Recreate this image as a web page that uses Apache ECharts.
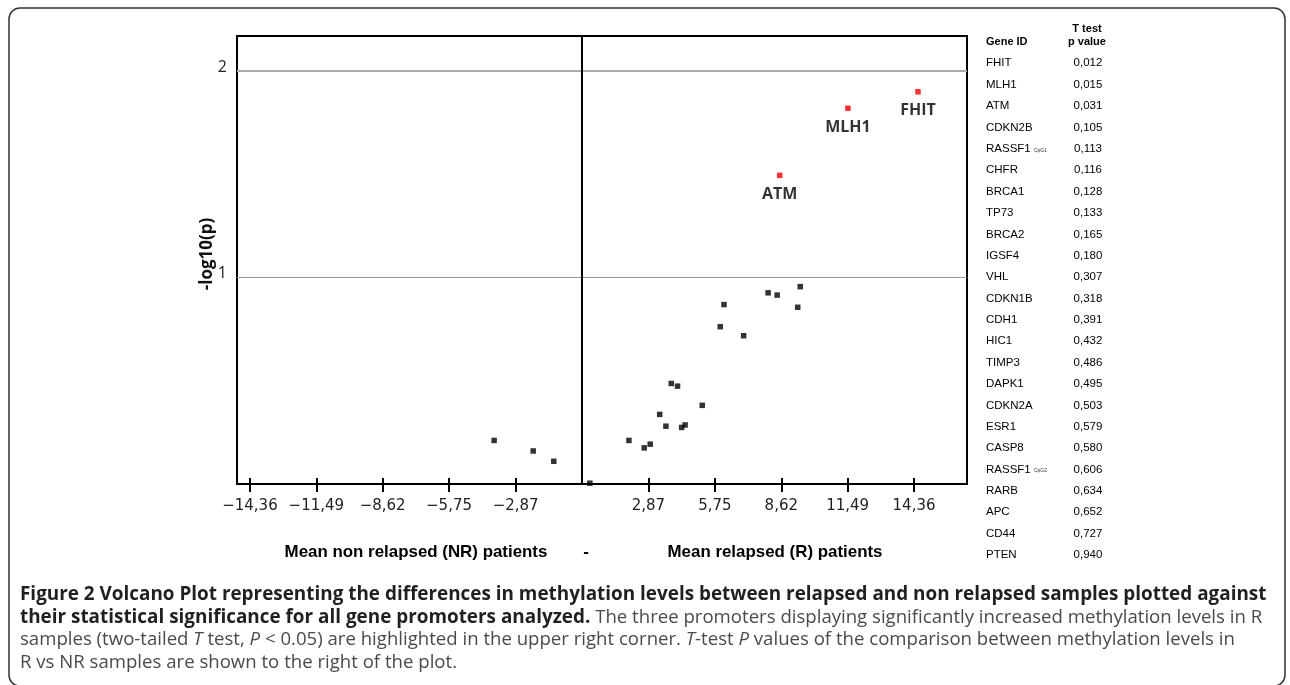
<!DOCTYPE html>
<html><head><meta charset="utf-8">
<script src="https://cdn.jsdelivr.net/npm/echarts@6/dist/echarts.min.js"></script>
<style>html,body{margin:0;padding:0;background:#fff}#c{width:1290px;height:685px}</style>
</head><body><div id="c"></div>
<script>
// ---- data ----
const xTickValues = [-14.36, -11.49, -8.62, -5.75, -2.87, 2.87, 5.75, 8.62, 11.49, 14.36];
const yTickValues = [1, 2];
const refLinesY = [1, 2];
const sigNames = ['FHIT', 'MLH1', 'ATM'];
const sigX = [14.53, 11.50, 8.55];
const sigY = [1.90, 1.82, 1.495];
const otherX = [-3.80, -2.11, -1.22, 0.34, 9.44, 8.05, 8.44, 9.33, 6.14, 5.98, 6.99, 3.86, 4.13, 5.20, 3.36, 3.63, 4.31, 4.46, 2.03, 2.69, 2.95];
const otherY = [0.211, 0.160, 0.110, 0.004, 0.956, 0.926, 0.915, 0.856, 0.869, 0.762, 0.718, 0.487, 0.474, 0.381, 0.337, 0.280, 0.274, 0.286, 0.211, 0.175, 0.193];
const tableGenes = ['FHIT','MLH1','ATM','CDKN2B','RASSF1','CHFR','BRCA1','TP73','BRCA2','IGSF4','VHL','CDKN1B','CDH1','HIC1','TIMP3','DAPK1','CDKN2A','ESR1','CASP8','RASSF1','RARB','APC','CD44','PTEN'];
const tableGeneSub = ['','','','','CpG1','','','','','','','','','','','','','','','CpG2','','','',''];
const tablePValues = ['0,012','0,015','0,031','0,105','0,113','0,116','0,128','0,133','0,165','0,180','0,307','0,318','0,391','0,432','0,486','0,495','0,503','0,579','0,580','0,606','0,634','0,652','0,727','0,940'];
const yAxisName = '-log10(p)';
const xTitleLeft = 'Mean non relapsed (NR) patients';
const xTitleMid = '-';
const xTitleRight = 'Mean relapsed (R) patients';
const captionLines = [
  [['b','Figure 2 Volcano Plot representing the differences in methylation levels between relapsed and non relapsed samples plotted against']],
  [['b','their statistical significance for all gene promoters analyzed.'],['r',' The three promoters displaying significantly increased methylation levels in R']],
  [['r','samples (two-tailed '],['i','T'],['r',' test, '],['i','P'],['r',' < 0.05) are highlighted in the upper right corner. '],['i','T'],['r','-test '],['i','P'],['r',' values of the comparison between methylation levels in']],
  [['r','R vs NR samples are shown to the right of the plot.']]
];

// ---- helpers ----
function fmtTick(v) { return (v < 0 ? '\u2212' : '') + Math.abs(v).toFixed(2).replace('.', ','); }
const X_MIN = -14.92, X_MAX = 16.65, Y_MIN = 0, Y_MAX = 2.17;

const chart = echarts.init(document.getElementById('c'), null, {renderer: 'canvas'});

const graphics = [];
graphics.push({type: 'rect', shape: {x: 9, y: 8, width: 1276, height: 678, r: 11},
  style: {fill: 'none', stroke: '#333', lineWidth: 1.5}, silent: true, z: 0});
const axisTitleFont = {fontFamily: 'Liberation Sans, Arial, sans-serif', fontWeight: 'bold', fontSize: 16.9, fill: '#000'};
graphics.push({type: 'text', x: 416, y: 552, style: Object.assign({text: xTitleLeft, textAlign: 'center', textVerticalAlign: 'middle'}, axisTitleFont)});
graphics.push({type: 'text', x: 586, y: 552, style: Object.assign({text: xTitleMid, textAlign: 'center', textVerticalAlign: 'middle'}, axisTitleFont)});
graphics.push({type: 'text', x: 775, y: 552, style: Object.assign({text: xTitleRight, textAlign: 'center', textVerticalAlign: 'middle'}, axisTitleFont)});

// table
const tFont = 'Liberation Sans, Arial, sans-serif';
graphics.push({type: 'text', x: 986, y: 42, style: {text: 'Gene ID', fontFamily: tFont, fontWeight: 'bold', fontSize: 11, fill: '#000', textVerticalAlign: 'middle'}});
graphics.push({type: 'text', x: 1087, y: 29, style: {text: 'T test', fontFamily: tFont, fontWeight: 'bold', fontSize: 11, fill: '#000', textAlign: 'center', textVerticalAlign: 'middle'}});
graphics.push({type: 'text', x: 1087, y: 42, style: {text: 'p value', fontFamily: tFont, fontWeight: 'bold', fontSize: 11, fill: '#000', textAlign: 'center', textVerticalAlign: 'middle'}});
tableGenes.forEach(function (g, i) {
  const y = 63.3 + i * 21.38;
  const sub = tableGeneSub[i];
  graphics.push({type: 'text', x: 986, y: y, style: {
    text: '{g|' + g + '}' + (sub ? '{sp| }{s|' + sub + '}' : ''),
    rich: {
      g: {fontFamily: tFont, fontSize: 11.5, fill: '#000', fontWeight: 'normal'},
      sp: {fontFamily: tFont, fontSize: 11.5},
      s: {fontFamily: tFont, fontSize: 5, fill: '#333', padding: [3, 0, 0, 0]}
    },
    textVerticalAlign: 'middle'}});
  graphics.push({type: 'text', x: 1088, y: y, style: {text: tablePValues[i], fontFamily: tFont, fontSize: 11.5, fill: '#000', textAlign: 'center', textVerticalAlign: 'middle'}});
});

// caption
const capRich = {
  b: {fontFamily: 'Open Sans, sans-serif', fontWeight: 'bold', fontSize: 18.9, fill: '#231f20'},
  r: {fontFamily: 'Open Sans, sans-serif', fontWeight: 'normal', fontSize: 18.6, fill: '#4a4a4a'},
  i: {fontFamily: 'Open Sans, sans-serif', fontWeight: 'normal', fontStyle: 'italic', fontSize: 18.6, fill: '#4a4a4a'}
};
captionLines.forEach(function (segs, li) {
  const txt = segs.map(function (s) { return '{' + s[0] + '|' + s[1] + '}'; }).join('');
  graphics.push({type: 'text', x: 20, y: 595 + li * 22.5, style: {text: txt, rich: capRich, textVerticalAlign: 'middle'}});
});

const option = {
  animation: false,
  backgroundColor: '#fff',
  grid: {left: 237, right: 323, top: 36, bottom: 201, show: true, borderColor: '#000', borderWidth: 2, backgroundColor: 'transparent', outerBoundsMode: 'none'},
  xAxis: [
    {type: 'value', min: X_MIN, max: X_MAX, position: 'bottom',
      axisLine: {show: true, onZero: false, lineStyle: {color: '#000', width: 2}},
      axisTick: {show: true, inside: false, length: 8, lineStyle: {color: '#000', width: 2}, customValues: xTickValues},
      axisLabel: {show: true, customValues: xTickValues, formatter: fmtTick, margin: 15, fontFamily: 'DejaVu Sans, sans-serif', fontSize: 15, color: '#222'},
      splitLine: {show: false}},
    {type: 'value', min: X_MIN, max: X_MAX, position: 'bottom', gridIndex: 0,
      axisLine: {show: false, onZero: false},
      axisTick: {show: true, inside: true, length: 6, lineStyle: {color: '#000', width: 2}, customValues: xTickValues},
      axisLabel: {show: false},
      splitLine: {show: false}}
  ],
  yAxis: {type: 'value', min: Y_MIN, max: Y_MAX, position: 'left',
    name: yAxisName, nameLocation: 'middle', nameRotate: 90, nameGap: 21, nameMoveOverlap: false,
    nameTextStyle: {fontFamily: 'Open Sans, sans-serif', fontWeight: 'bold', fontSize: 17, color: '#111', padding: [0, 0, 0, 12]},
    axisLine: {show: false}, axisTick: {show: false},
    axisLabel: {customValues: yTickValues, margin: 10, color: '#222',
      formatter: function (v) { return '{a|' + v + '}'; },
      rich: {a: {fontFamily: 'Open Sans, sans-serif', fontSize: 16, color: '#222', padding: [0, 0, 8, 0]}}},
    splitLine: {show: false}},
  series: [
    {type: 'scatter', name: 'other', xAxisIndex: 0, symbol: 'rect', symbolSize: 5.5,
      itemStyle: {color: '#000'}, silent: true,
      data: otherX.map(function (x, i) { return [x, otherY[i]]; }),
      markLine: {silent: true, symbol: ['none', 'none'], label: {show: false}, animation: false,
        data: [
          {yAxis: refLinesY[0], lineStyle: {color: '#999', width: 1, type: 'solid'}},
          {yAxis: refLinesY[1], lineStyle: {color: '#aaa', width: 2, type: 'solid'}},
          {xAxis: 0, lineStyle: {color: '#000', width: 2, type: 'solid'}}
        ]}},
    {type: 'scatter', name: 'significant', xAxisIndex: 0, symbol: 'rect', symbolSize: 5.5,
      itemStyle: {color: '#ff0000'}, silent: true,
      label: {show: true, position: 'bottom', distance: 8, formatter: function (p) { return p.data[2]; },
        fontFamily: 'Open Sans, sans-serif', fontWeight: 'bold', fontSize: 16, color: '#000'},
      data: sigX.map(function (x, i) { return [x, sigY[i], sigNames[i]]; })}
  ],
  graphic: graphics
};
chart.setOption(option);
</script></body></html>
